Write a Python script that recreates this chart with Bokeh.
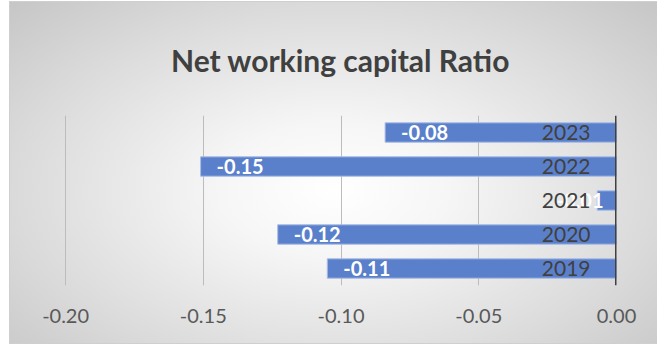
import numpy as np
from bokeh.plotting import figure
from bokeh.models import ColumnDataSource, FactorRange, Range1d, FixedTicker, CustomJSTickFormatter
from bokeh.core.properties import value
from bokeh.embed import file_html
from bokeh.resources import INLINE

years = ["2019", "2020", "2021", "2022", "2023"]
ratios = [-0.105, -0.123, -0.007, -0.151, -0.084]
data_labels = ["-0.11", "-0.12", "-0.01", "-0.15", "-0.08"]
x_ticks = [-0.20, -0.15, -0.10, -0.05, 0.00]

FONT = "Lato"

label_x = list(np.minimum(np.array(ratios), -0.0276))

src = ColumnDataSource(dict(y=years, v=ratios, lx=label_x, t=data_labels))

p = figure(width=648, height=341, y_range=FactorRange(*years), x_range=Range1d(-0.2004, 0.0),
           output_backend="svg", toolbar_location=None,
           min_border_left=54, min_border_right=42, min_border_top=111, min_border_bottom=58)
p.styles = {"background": "radial-gradient(ellipse at 50% 55%, #ffffff 0%, #f6f6f6 25%, #dadada 70%, #c6c6c6 100%)",
            "margin-left": "10px", "margin-top": "2px", "outline": "1px solid #cfcfcf"}
p.border_fill_color = None
p.background_fill_color = None
p.outline_line_color = None

p.title.text = "Net working capital Ratio"
p.title.align = "center"
p.title.text_font = FONT
p.title.text_font_size = "30px"
p.title.text_color = "#404040"
p.title.text_font_style = "bold"
p.title.standoff = 75

p.hbar(y="y", left="v", right=0, height=0.57, source=src,
       fill_color="#5b80cb", line_color="#a9bde6", line_width=1)

p.text(x="lx", y="y", text="t", source=src, x_offset=16, text_baseline="middle", text_align="left",
       text_color="white", text_font=value(FONT), text_font_style="bold", text_font_size="20px")

p.xgrid.ticker = FixedTicker(ticks=x_ticks)
p.xgrid.grid_line_color = "#bcbcbc"
p.xgrid.grid_line_width = 1
p.ygrid.grid_line_color = None

p.xaxis.ticker = FixedTicker(ticks=x_ticks)
p.xaxis.formatter = CustomJSTickFormatter(code="return tick.toFixed(2);")
p.xaxis.axis_line_color = None
p.xaxis.major_tick_line_color = None
p.xaxis.minor_tick_line_color = None
p.xaxis.major_label_text_font = FONT
p.xaxis.major_label_text_font_size = "20px"
p.xaxis.major_label_text_color = "#595959"
p.xaxis.major_label_standoff = 17

p.yaxis.fixed_location = 0
p.yaxis.axis_line_color = "#404040"
p.yaxis.axis_line_width = 3
p.yaxis.major_tick_line_color = None
p.yaxis.minor_tick_line_color = None
p.yaxis.major_label_text_font = FONT
p.yaxis.major_label_text_font_size = "21px"
p.yaxis.major_label_text_color = "#404040"
p.yaxis.major_label_standoff = 20

open("out.html", "w").write(file_html(p, INLINE))
